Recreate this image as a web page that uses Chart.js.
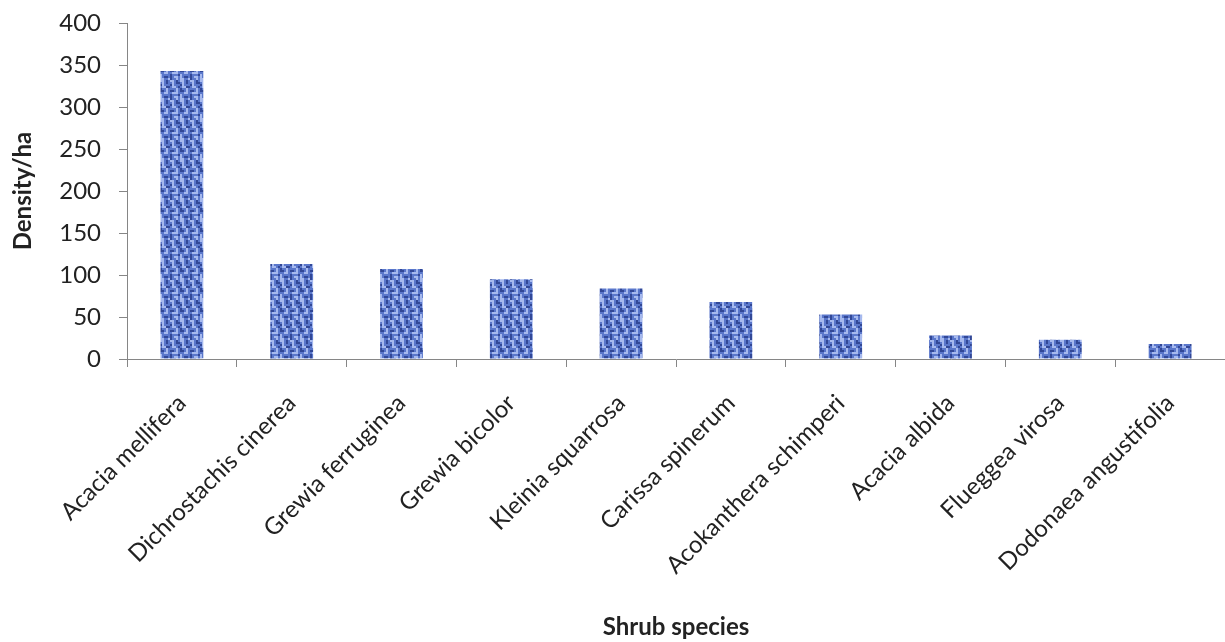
<!DOCTYPE html>
<html>
<head>
<meta charset="utf-8">
<title>Shrub density</title>
<script src="https://cdn.jsdelivr.net/npm/chart.js@4.4.1/dist/chart.umd.min.js"></script>
<style>
  html, body { margin: 0; padding: 0; background: #ffffff; }
  #wrap { position: relative; width: 1225px; height: 642px; }
</style>
</head>
<body>
<div id="wrap"><canvas id="chart"></canvas></div>
<script>
// Shrub species and their density per hectare
const species = [
  'Acacia mellifera',
  'Dichrostachis cinerea',
  'Grewia ferruginea',
  'Grewia bicolor',
  'Kleinia squarrosa',
  'Carissa spinerum',
  'Acokanthera schimperi',
  'Acacia albida',
  'Flueggea virosa',
  'Dodonaea angustifolia'
];
const densityPerHa = [343, 113, 107, 95, 84, 68, 53, 28, 23, 18];
const yTicks = [0, 50, 100, 150, 200, 250, 300, 350, 400];

// Woven blue texture used to fill the bars
function makeTexture() {
  const rows = [
    'll.d.ll.d.',
    '.l.d..l.dd',
    'dl...dl...',
    '.lldd.ll.d',
    'd..l....l.',
    'dd.l.dd.l.',
    '..ll..lll.',
    'l....d...d',
    'l.dd.d.ll.',
    'll..ld..l.'
  ];
  const cell = 2;
  const w = rows[0].length * cell, h = rows.length * cell;
  // draw the tile three times across and down, soften it, then keep the centre copy
  const big = document.createElement('canvas');
  big.width = w * 3; big.height = h * 3;
  const bg = big.getContext('2d');
  const pal = { '.': '#5a77cb', 'd': '#324897', 'l': '#a6b9ee' };
  for (let ty = 0; ty < 3; ty++) {
    for (let tx = 0; tx < 3; tx++) {
      rows.forEach((r, y) => {
        [...r].forEach((ch, x) => {
          bg.fillStyle = pal[ch];
          bg.fillRect(tx * w + x * cell, ty * h + y * cell, cell, cell);
        });
      });
    }
  }
  const soft = document.createElement('canvas');
  soft.width = big.width; soft.height = big.height;
  const sg = soft.getContext('2d');
  sg.filter = 'blur(0.6px)';
  sg.drawImage(big, 0, 0);
  const tile = document.createElement('canvas');
  tile.width = w; tile.height = h;
  tile.getContext('2d').drawImage(soft, w, h, w, h, 0, 0, w, h);
  return tile.getContext('2d').createPattern(tile, 'repeat');
}

const axisGrey = '#868686';
const textColor = '#222222';
const fontFamily = 'Lato, "Open Sans", sans-serif';

new Chart(document.getElementById('chart'), {
  type: 'bar',
  data: {
    labels: species,
    datasets: [{
      data: densityPerHa,
      backgroundColor: makeTexture(),
      borderWidth: 0,
      categoryPercentage: 1.0,
      barPercentage: 0.39
    }]
  },
  options: {
    responsive: true,
    maintainAspectRatio: false,
    animation: false,
    events: [],
    layout: { padding: { left: 0, right: 0, top: 23, bottom: 0 } },
    plugins: {
      legend: { display: false },
      tooltip: { enabled: false }
    },
    scales: {
      x: {
        grid: {
          display: true,
          drawOnChartArea: false,
          drawTicks: true,
          tickLength: 8,
          color: axisGrey,
          offset: true
        },
        border: { display: true, color: axisGrey, width: 1 },
        ticks: {
          autoSkip: false,
          minRotation: 45,
          maxRotation: 45,
          padding: 22,
          color: textColor,
          font: { family: fontFamily, size: 24 }
        },
        title: {
          display: true,
          text: 'Shrub species',
          color: textColor,
          font: { family: fontFamily, size: 24, weight: 'bold' },
          padding: { top: 0, bottom: 0 }
        },
        afterFit(scale) { scale.height = 283; }
      },
      y: {
        min: 0,
        max: 400,
        afterBuildTicks(scale) { scale.ticks = yTicks.map(v => ({ value: v })); },
        grid: {
          display: true,
          drawOnChartArea: false,
          drawTicks: true,
          tickLength: 8,
          color: axisGrey
        },
        border: { display: true, color: axisGrey, width: 1 },
        ticks: {
          padding: 18,
          color: textColor,
          font: { family: fontFamily, size: 24 }
        },
        title: {
          display: true,
          text: 'Density/ha',
          color: textColor,
          font: { family: fontFamily, size: 24, weight: 'bold' },
          padding: { top: 9, bottom: 0 }
        },
        afterFit(scale) {
          scale.width = 127;
          // only half a label height is needed above the top tick
          scale.paddingTop = 14;
          scale.paddingBottom = 14;
        }
      }
    }
  }
});
</script>
</body>
</html>
